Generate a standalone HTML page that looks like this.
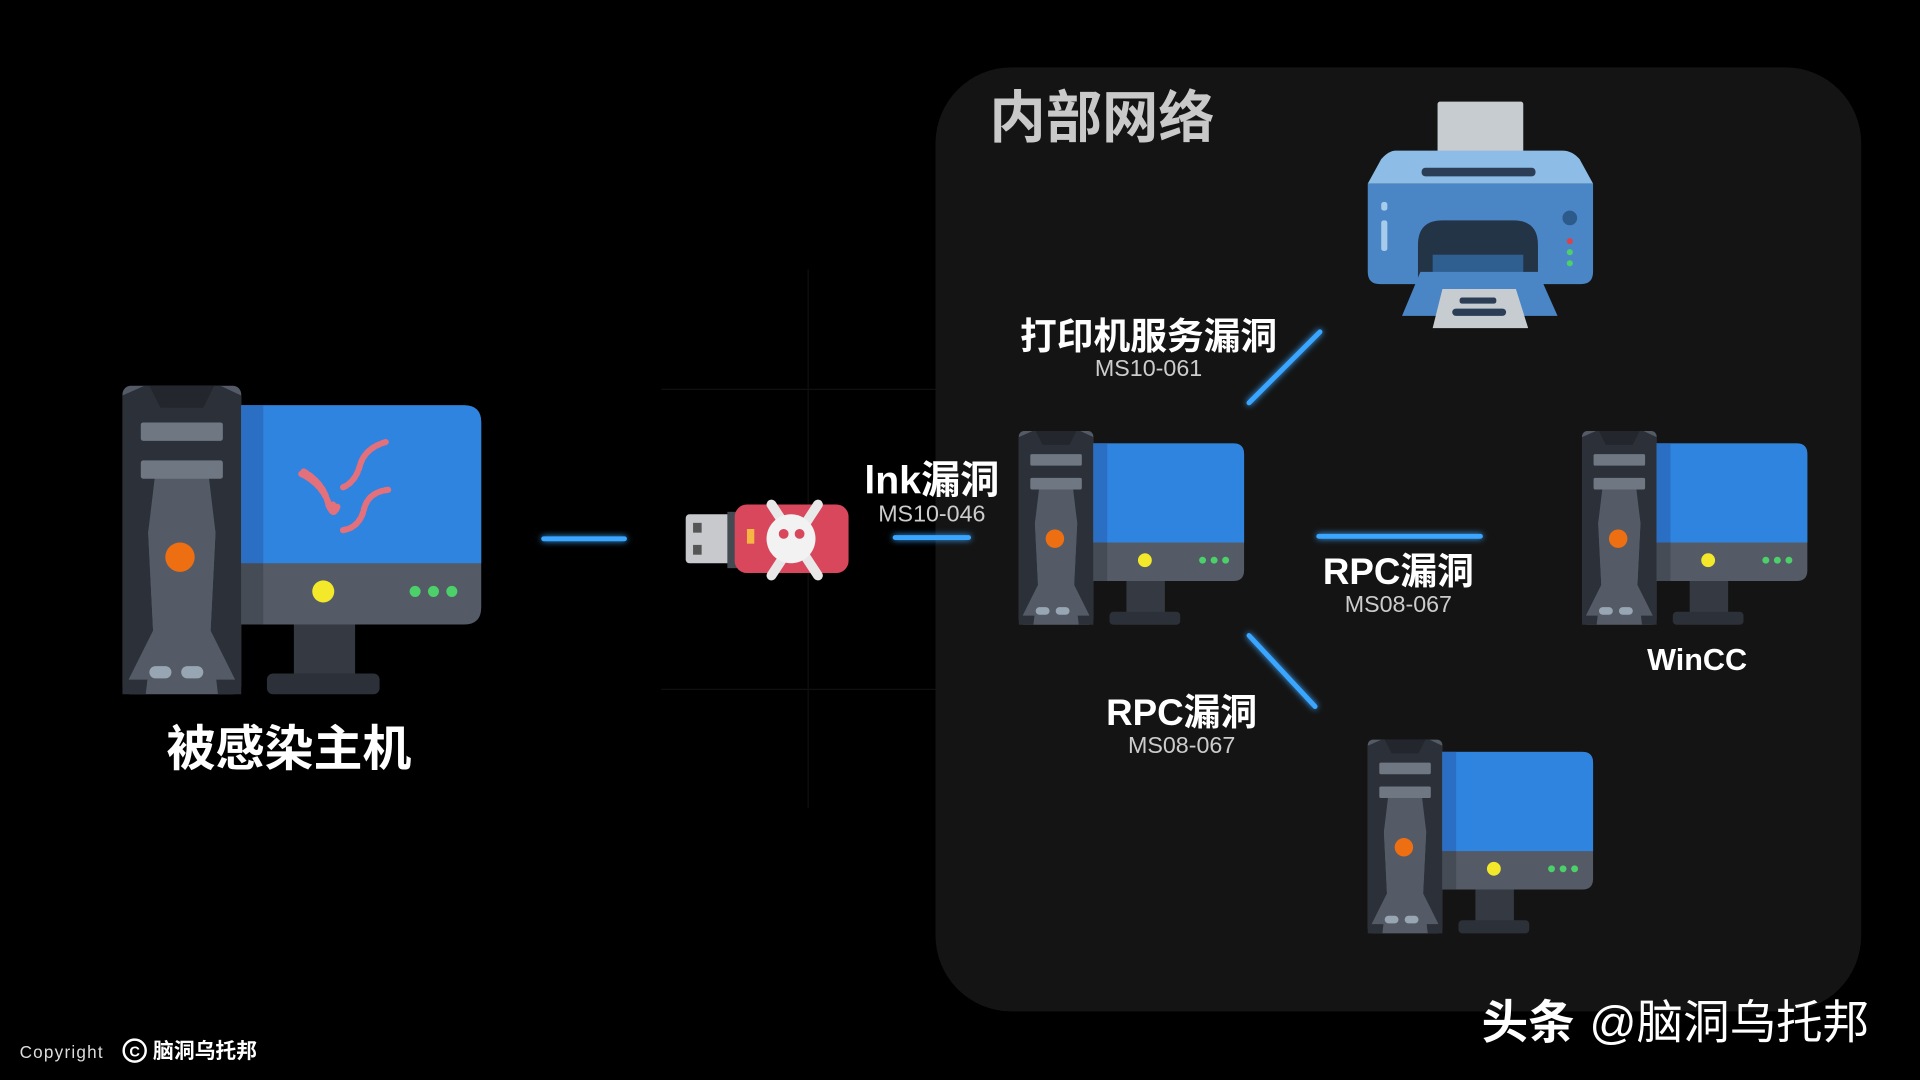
<!DOCTYPE html>
<html><head><meta charset="utf-8"><style>
html,body{margin:0;padding:0;background:#000;width:1920px;height:1080px;overflow:hidden}
svg{display:block}
text{font-family:"Liberation Sans","Noto Sans CJK SC",sans-serif}
</style></head><body>
<svg width="1920" height="1080" viewBox="0 0 1568 882" xmlns="http://www.w3.org/2000/svg">
<defs>
<filter id="glow" x="-50%" y="-50%" width="200%" height="200%"><feGaussianBlur stdDeviation="2.5" result="b"/><feMerge><feMergeNode in="b"/><feMergeNode in="SourceGraphic"/></feMerge></filter>
<g id="pc">
  <rect x="0" y="0" width="97" height="252" rx="7" fill="#545b66"/>
  <path d="M0 8 L18 0 L80 0 L97 8 L97 252 L78 252 L72 200 L76 120 L70 80 L27 80 L21 120 L25 200 L19 252 L0 252 Z" fill="#2c3038"/>
  <path d="M22 0 L75 0 L66 18 L31 18 Z" fill="#23262c"/>
  <path d="M27 70 L70 70 L76 120 L72 200 L92 240 L5 240 L25 200 L21 120 Z" fill="#545b66"/>
  <rect x="15" y="30" width="67" height="15" rx="2" fill="#6f7782"/>
  <rect x="15" y="61" width="67" height="15" rx="2" fill="#6f7782"/>
  <ellipse cx="47" cy="140" rx="12" ry="12" fill="#ee6f12"/>
  <rect x="22" y="229" width="18" height="10" rx="5" fill="#98a6b3"/>
  <rect x="48" y="229" width="18" height="10" rx="5" fill="#98a6b3"/>
  <rect x="140" y="190" width="50" height="47" fill="#353a42"/>
  <rect x="118" y="235" width="92" height="17" rx="5" fill="#2c3038"/>
  <path d="M97 16 L279 16 Q293 16 293 30 L293 181 Q293 195 279 195 L97 195 Z" fill="#545b66"/>
  <path d="M97 16 L279 16 Q293 16 293 30 L293 145 L97 145 Z" fill="#2f84e0"/>
  <rect x="97" y="16" width="18" height="129" fill="#2a6fc3"/>
  <rect x="97" y="145" width="18" height="50" fill="#464c56"/>
  <circle cx="164" cy="168" r="9" fill="#f3e92a"/>
  <circle cx="239" cy="168" r="4.5" fill="#4bd06a"/>
  <circle cx="254" cy="168" r="4.5" fill="#4bd06a"/>
  <circle cx="269" cy="168" r="4.5" fill="#4bd06a"/>
</g>
</defs>
<rect width="1568" height="882" fill="#000"/>
<g stroke="#101010" stroke-width="1">
<line x1="540" y1="318" x2="764" y2="318"/><line x1="540" y1="563" x2="764" y2="563"/>
<line x1="660" y1="220" x2="660" y2="660"/>
</g>
<rect x="764" y="55" width="756" height="771" rx="62" fill="#141414"/>
<text x="808" y="112" font-size="46" font-weight="bold" fill="#c9c9c9">内部网络</text>

<use href="#pc" x="100" y="315"/>
<g fill="none" stroke="#e3707a" stroke-width="5" stroke-linecap="round" stroke-dasharray="3 2">
<path d="M246 387 Q262 395 268 410 Q274 425 272 412"/>
<path d="M248 385 Q265 395 268 412 Q273 424 276 412"/>
<path d="M315 361 Q298 366 294 380 Q290 394 280 398"/>
<path d="M317 400 Q300 402 297 417 Q293 431 280 433"/>
</g>
<text x="236" y="625" font-size="40" font-weight="bold" fill="#fff" text-anchor="middle">被感染主机</text>

<rect x="560" y="420" width="42" height="40" rx="3" fill="#c7c9cd"/>
<rect x="566" y="427" width="7" height="8" fill="#555"/><rect x="566" y="445" width="7" height="8" fill="#555"/>
<rect x="594" y="418" width="10" height="46" fill="#444a52"/>
<rect x="600" y="412" width="93" height="56" rx="10" fill="#d8475c"/>
<rect x="610" y="432" width="6" height="12" fill="#f5b642"/>
<g stroke="#e8e8e8" stroke-width="8" stroke-linecap="round"><line x1="630" y1="412" x2="668" y2="470"/><line x1="668" y1="412" x2="630" y2="470"/></g>
<circle cx="646" cy="440" r="20" fill="#f2f2f2"/>
<circle cx="640" cy="436" r="4" fill="#d8475c"/><circle cx="653" cy="436" r="4" fill="#d8475c"/>

<g stroke="#3aa6ff" stroke-width="4" filter="url(#glow)" stroke-linecap="round">
<line x1="444" y1="440" x2="510" y2="440"/>
<line x1="731" y1="439" x2="791" y2="439"/>
<line x1="1077" y1="438" x2="1209" y2="438"/>
<line x1="1020" y1="329" x2="1078" y2="271"/>
<line x1="1020" y1="519" x2="1074" y2="577"/>
</g>

<text x="761" y="403" font-size="32" font-weight="bold" fill="#fff" text-anchor="middle">lnk漏洞</text>
<text x="761" y="426" font-size="19" fill="#ccc" text-anchor="middle">MS10-046</text>
<text x="938" y="285" font-size="30" font-weight="bold" fill="#fff" text-anchor="middle">打印机服务漏洞</text>
<text x="938" y="307" font-size="19" fill="#ccc" text-anchor="middle">MS10-061</text>
<text x="1142" y="477" font-size="30" font-weight="bold" fill="#fff" text-anchor="middle">RPC漏洞</text>
<text x="1142" y="500" font-size="19" fill="#ccc" text-anchor="middle">MS08-067</text>
<text x="965" y="592" font-size="30" font-weight="bold" fill="#fff" text-anchor="middle">RPC漏洞</text>
<text x="965" y="615" font-size="19" fill="#ccc" text-anchor="middle">MS08-067</text>
<text x="1386" y="547" font-size="25" font-weight="bold" fill="#fff" text-anchor="middle">WinCC</text>

<use href="#pc" transform="translate(832,352) scale(0.628)"/>
<use href="#pc" transform="translate(1292,352) scale(0.628)"/>
<use href="#pc" transform="translate(1117,604) scale(0.628)"/>

<rect x="1174" y="83" width="70" height="62" rx="2" fill="#c7ccd0"/>
<path d="M1140 123 L1276 123 Q1284 123 1290 130 L1301 150 L1117 150 L1128 130 Q1134 123 1140 123 Z" fill="#8dbde6"/>
<rect x="1161" y="137" width="93" height="7" rx="3" fill="#2c3e55"/>
<path d="M1117 150 L1301 150 L1301 222 Q1301 232 1291 232 L1127 232 Q1117 232 1117 222 Z" fill="#4a86c6"/>
<path d="M1158 232 L1158 200 Q1158 180 1178 180 L1236 180 Q1256 180 1256 200 L1256 232 Z" fill="#243447"/>
<rect x="1170" y="208" width="74" height="18" fill="#2f5f90"/>
<path d="M1160 222 L1256 222 L1272 258 L1145 258 Z" fill="#4a86c6"/>
<path d="M1178 236 L1238 236 L1248 268 L1170 268 Z" fill="#c7ccd0"/>
<rect x="1192" y="243" width="30" height="5" rx="2" fill="#2c3e55"/><rect x="1186" y="252" width="44" height="6" rx="3" fill="#2c3e55"/>
<rect x="1128" y="165" width="5" height="7" rx="2" fill="#a7cbea"/><rect x="1128" y="180" width="5" height="25" rx="2" fill="#a7cbea"/>
<circle cx="1282" cy="178" r="6" fill="#2c5a8a"/>
<circle cx="1282" cy="197" r="2.5" fill="#d9434e"/><circle cx="1282" cy="206" r="2.5" fill="#4bd06a"/><circle cx="1282" cy="215" r="2.5" fill="#4bd06a"/>

<text x="16" y="864" font-size="14" fill="#ddd" letter-spacing="1">Copyright</text>
<circle cx="110" cy="858" r="9" fill="none" stroke="#fff" stroke-width="2"/>
<text x="110" y="863" font-size="12" font-weight="bold" fill="#fff" text-anchor="middle">C</text>
<text x="125" y="864" font-size="17" font-weight="bold" fill="#fff">脑洞乌托邦</text>
<text x="1210" y="848" font-size="38" fill="#fff" font-weight="bold">头条</text>
<text x="1298" y="848" font-size="38" fill="#fff">@脑洞乌托邦</text>
</svg>
</body></html>
